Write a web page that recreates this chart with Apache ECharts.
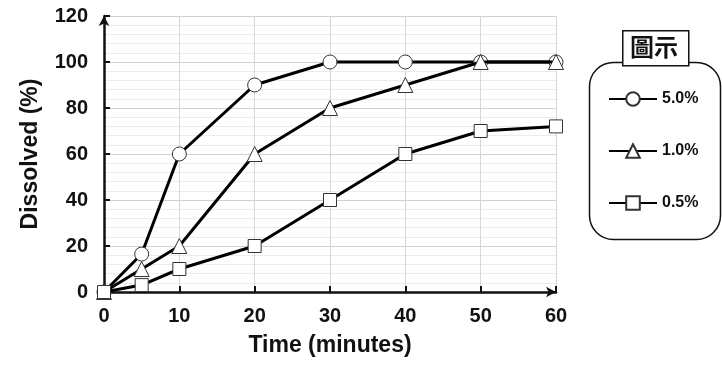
<!DOCTYPE html>
<html><head><meta charset="utf-8">
<script src="https://cdn.jsdelivr.net/npm/echarts@6/dist/echarts.min.js"></script>
<style>html,body{margin:0;padding:0;background:#fff}#c{width:722px;height:369px}</style>
</head><body><div id="c"></div>
<script>
const times = [0, 5, 10, 20, 30, 40, 50, 60];
const s50 = [0, 16.5, 60, 90, 100, 100, 100, 100];
const s10 = [0, 10, 20, 60, 80, 90, 100, 100];
const s05 = [0, 3, 10, 20, 40, 60, 70, 72];
const seriesNames = ['5.0%', '1.0%', '0.5%'];
const symbols = ['circle', 'triangle', 'rect'];
const legendTitle = '圖示';
const xName = 'Time (minutes)';
const yName = 'Dissolved (%)';

const FONT = '"Liberation Sans", Arial, sans-serif';
const chart = echarts.init(document.getElementById('c'), null, {renderer: 'canvas'});
const allData = [s50, s10, s05];
const sizes = [14, 15, 13];
chart.setOption({
  animation: false,
  backgroundColor: '#fff',
  grid: {left: 104, right: 166, top: 16, bottom: 77, containLabel: false},
  xAxis: {
    type: 'value', min: 0, max: 60, interval: 10,
    name: xName, nameLocation: 'middle', nameGap: 42,
    nameTextStyle: {fontFamily: FONT, fontWeight: 'bold', fontSize: 23, color: '#111'},
    axisLine: {lineStyle: {color: '#111', width: 2.5}, symbol: ['none', 'arrow'], symbolSize: [8, 10]},
    axisTick: {show: true, inside: true, length: 6, lineStyle: {color: '#111', width: 2}},
    axisLabel: {fontFamily: FONT, fontWeight: 'bold', fontSize: 20, color: '#111', margin: 14},
    splitLine: {show: true, lineStyle: {color: '#d8d8d8', width: 1}}
  },
  yAxis: {
    type: 'value', min: 0, max: 120, interval: 20,
    name: yName, nameLocation: 'middle', nameGap: 62, nameRotate: 90,
    nameTextStyle: {fontFamily: FONT, fontWeight: 'bold', fontSize: 23, color: '#111'},
    axisLine: {show: true, lineStyle: {color: '#111', width: 2.5}, symbol: ['none', 'arrow'], symbolSize: [8, 10]},
    axisTick: {show: true, inside: true, length: 6, lineStyle: {color: '#111', width: 2}},
    axisLabel: {fontFamily: FONT, fontWeight: 'bold', fontSize: 20, color: '#111', margin: 16},
    splitLine: {show: true, lineStyle: {color: '#d0d0d0', width: 1}},
    minorTick: {show: false, splitNumber: 5},
    minorSplitLine: {show: true, lineStyle: {color: '#ececec', width: 1}}
  },
  legend: {
    orient: 'vertical', left: 603, top: 86, itemWidth: 48, itemHeight: 17, itemGap: 36,
    textStyle: {fontFamily: FONT, fontWeight: 'bold', fontSize: 16, color: '#111'},
    data: seriesNames
  },
  graphic: [
    {type: 'rect', left: 587, top: 60, shape: {width: 131, height: 177, r: 24},
     style: {fill: 'none', stroke: '#111', lineWidth: 1.5}, z: 0},
    {type: 'rect', left: 622, top: 30, shape: {width: 66, height: 35},
     style: {fill: '#fff', stroke: '#111', lineWidth: 1.5}, z: 1},
    {type: 'text', left: 630, top: 35, style: {text: legendTitle, fontFamily: '"Noto Sans CJK TC", sans-serif', fontWeight: 'bold', fontSize: 24, fill: '#111'}, z: 2}
  ],
  series: allData.map((d, i) => ({
    name: seriesNames[i], type: 'line',
    data: times.map((t, j) => [t, d[j]]),
    symbol: symbols[i], symbolSize: sizes[i], showAllSymbol: true,
    lineStyle: {color: '#000', width: 3},
    itemStyle: {color: '#fff', borderColor: '#333', borderWidth: 1},
    z: 3 + i
  }))
});
</script></body></html>
